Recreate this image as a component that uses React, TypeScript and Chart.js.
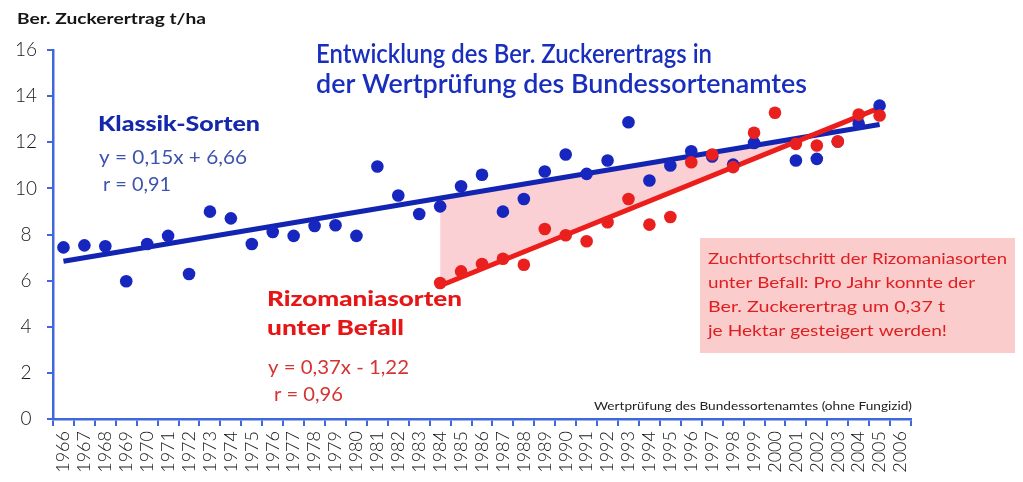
import React, { useEffect, useRef } from "react";
import { Chart, registerables } from "chart.js";

Chart.register(...registerables);

// ---------- data ----------
const yearLabels = [
  "1966", "1967", "1968", "1969", "1970", "1971", "1972", "1973", "1974", "1975",
  "1976", "1977", "1978", "1979", "1980", "1981", "1982", "1983", "1984", "1985",
  "1986", "1987", "1988", "1989", "1990", "1991", "1992", "1993", "1994", "1995",
  "1996", "1997", "1998", "1999", "2000", "2001", "2002", "2003", "2004", "2005",
  "2006",
];

// Klassik-Sorten (1966 … 2005)
const klassikValues: (number | null)[] = [
  7.44, 7.53, 7.49, 5.97, 7.59, 7.94, 6.29, 8.99, 8.7, 7.59,
  8.11, 7.94, 8.37, 8.4, 7.94, 10.95, 9.69, 8.89, 9.22, 10.09,
  10.59, 8.99, 9.54, 10.73, 11.47, 10.63, 11.21, 12.87, 10.34, 10.99,
  11.61, 11.38, 11.03, 11.97, null, 11.21, 11.28, 12.03, 12.8, 13.59,
];

// Rizomaniasorten unter Befall (1966 … 2005)
const rizoValues: (number | null)[] = [
  null, null, null, null, null, null, null, null, null, null,
  null, null, null, null, null, null, null, null, 5.9, 6.4,
  6.72, 6.95, 6.69, 8.24, 7.97, 7.71, 8.53, 9.54, 8.43, 8.76,
  11.13, 11.47, 10.92, 12.41, 13.28, 11.93, 11.86, 12.03, 13.2, 13.16,
];

// trend lines (end points)
const klassikTrendYears = [1966, 2005];
const klassikTrendValues = [6.84, 12.77];
const rizoTrendYears = [1984, 2005];
const rizoTrendValues = [5.78, 13.49];

const yTicks = [0, 2, 4, 6, 8, 10, 12, 14, 16];

// ---------- texts ----------
const yAxisTitle = "Ber. Zuckerertrag t/ha";
const titleLines = ["Entwicklung des Ber. Zuckerertrags in", "der Wertprüfung des Bundessortenamtes"];
const klassikLabel = "Klassik-Sorten";
const klassikEq = ["y = 0,15x + 6,66", "r = 0,91"];
const rizoLabel = ["Rizomaniasorten", "unter Befall"];
const rizoEq = ["y = 0,37x - 1,22", "r = 0,96"];
const boxLines = [
  "Zuchtfortschritt der Rizomaniasorten",
  "unter Befall: Pro Jahr konnte der",
  "Ber. Zuckerertrag um 0,37 t",
  "je Hektar gesteigert werden!",
];
const sourceNote = "Wertprüfung des Bundessortenamtes (ohne Fungizid)";

// ---------- styles ----------
const BLUE_PT = "rgb(22,38,190)";
const BLUE_LINE = "rgb(18,36,178)";
const RED_PT = "rgb(234,32,30)";
const RED_LINE = "rgb(236,30,28)";
const AXIS = "rgb(64,104,220)";
const PINK_FILL = "rgb(251,208,212)";
const PINK_BOX = "rgb(251,204,204)";
const FONT = "Lato, 'Open Sans', 'DejaVu Sans', sans-serif";

function toPoints(values: (number | null)[]) {
  const pts: { x: number; y: number }[] = [];
  values.forEach((v, i) => {
    if (v !== null) pts.push({ x: Number(yearLabels[i]), y: v });
  });
  return pts;
}
function pairPoints(xs: number[], ys: number[]) {
  return xs.map((x, i) => ({ x, y: ys[i] }));
}

function drawFitted(
  ctx: CanvasRenderingContext2D,
  text: string,
  x: number,
  y: number,
  font: string,
  color: string,
  width: number
) {
  ctx.save();
  ctx.font = font;
  ctx.fillStyle = color;
  ctx.textAlign = "left";
  ctx.textBaseline = "alphabetic";
  const w = ctx.measureText(text).width;
  ctx.translate(x, y);
  ctx.scale(width / w, 1);
  ctx.fillText(text, 0, 0);
  ctx.restore();
}

const textPlugin = {
  id: "textPlugin",
  afterDraw(chart: any) {
    const ctx: CanvasRenderingContext2D = chart.ctx;
    // annotation box
    ctx.save();
    ctx.fillStyle = PINK_BOX;
    ctx.fillRect(700, 238, 315, 115);
    ctx.restore();
    const boxWidths = [299, 267, 237, 239];
    const boxBase = [263.5, 288, 312, 335.5];
    boxLines.forEach((t, i) =>
      drawFitted(ctx, t, 708, boxBase[i], `400 16px ${FONT}`, "rgb(222,30,32)", boxWidths[i])
    );

    drawFitted(ctx, yAxisTitle, 17, 23.5, `700 16px ${FONT}`, "#151515", 189);

    drawFitted(ctx, titleLines[0], 316, 63, `600 27px ${FONT}`, "rgb(26,46,190)", 396);
    drawFitted(ctx, titleLines[1], 316, 92.5, `600 27px ${FONT}`, "rgb(26,46,190)", 491);

    drawFitted(ctx, klassikLabel, 98, 130.5, `900 20px ${FONT}`, "rgb(20,40,172)", 162);
    drawFitted(ctx, klassikEq[0], 99, 164, `400 20px ${FONT}`, "rgb(62,84,172)", 148);
    drawFitted(ctx, klassikEq[1], 103, 190.5, `400 20px ${FONT}`, "rgb(62,84,172)", 68);

    drawFitted(ctx, rizoLabel[0], 267, 306, `900 20px ${FONT}`, "rgb(230,22,22)", 195);
    drawFitted(ctx, rizoLabel[1], 267, 335, `900 20px ${FONT}`, "rgb(230,22,22)", 137);
    drawFitted(ctx, rizoEq[0], 268, 374, `400 20px ${FONT}`, "rgb(212,52,50)", 141);
    drawFitted(ctx, rizoEq[1], 274, 400.5, `400 20px ${FONT}`, "rgb(212,52,50)", 69);

    drawFitted(ctx, sourceNote, 594, 410, `400 12px ${FONT}`, "#222", 318);
  },
};

export default function App() {
  const canvasRef = useRef<HTMLCanvasElement | null>(null);

  useEffect(() => {
    const canvas = canvasRef.current;
    if (!canvas) return;
    const chart = new Chart(canvas, {
      type: "line",
      data: {
        datasets: [
          {
            label: "Rizomaniasorten",
            data: toPoints(rizoValues),
            showLine: false,
            pointRadius: 6.3,
            pointHoverRadius: 6.3,
            pointBackgroundColor: RED_PT,
            pointBorderWidth: 0,
            borderColor: RED_PT,
            order: 0,
          },
          {
            label: "Klassik-Sorten",
            data: toPoints(klassikValues),
            showLine: false,
            pointRadius: 6.3,
            pointHoverRadius: 6.3,
            pointBackgroundColor: BLUE_PT,
            pointBorderWidth: 0,
            borderColor: BLUE_PT,
            order: 1,
          },
          {
            label: "Trend Rizomania",
            data: pairPoints(rizoTrendYears, rizoTrendValues),
            borderColor: RED_LINE,
            borderWidth: 5,
            pointRadius: 0,
            borderCapStyle: "butt",
            fill: { target: 3, above: "rgba(0,0,0,0)", below: PINK_FILL },
            order: 2,
          },
          {
            label: "Trend Klassik",
            data: pairPoints(klassikTrendYears, klassikTrendValues),
            borderColor: BLUE_LINE,
            borderWidth: 5,
            pointRadius: 0,
            fill: false,
            order: 3,
          },
        ],
      },
      options: {
        animation: false,
        responsive: false,
        maintainAspectRatio: false,
        layout: { padding: { top: 50, right: 112, left: 0, bottom: 0 } },
        plugins: {
          legend: { display: false },
          tooltip: { enabled: false },
          title: { display: false },
          filler: { drawTime: "beforeDatasetsDraw" },
        },
        scales: {
          x: {
            type: "linear",
            min: 1965.5,
            max: 2006.5,
            afterFit: (s: any) => {
              s.height = 63;
            },
            afterBuildTicks: (s: any) => {
              s.ticks = yearLabels.map((y) => ({ value: Number(y) }));
            },
            border: { display: true, color: AXIS, width: 2.5 },
            grid: {
              offset: true,
              drawOnChartArea: false,
              drawTicks: true,
              tickLength: 7,
              color: AXIS,
              lineWidth: 2,
            },
            ticks: {
              autoSkip: false,
              maxRotation: 90,
              minRotation: 90,
              padding: 5,
              color: "#161616",
              font: { family: FONT, size: 18, weight: "300" },
              callback: (v: any) => {
                const idx = yearLabels.indexOf(String(Math.round(Number(v))));
                return idx >= 0 ? yearLabels[idx] : "";
              },
            },
          },
          y: {
            type: "linear",
            min: 0,
            max: 16,
            afterFit: (s: any) => {
              s.width = 53;
            },
            afterBuildTicks: (s: any) => {
              s.ticks = yTicks.map((v) => ({ value: v }));
            },
            border: { display: true, color: AXIS, width: 2.5 },
            grid: {
              drawOnChartArea: false,
              drawTicks: true,
              tickLength: 6,
              color: AXIS,
              lineWidth: 2,
            },
            ticks: {
              crossAlign: "center",
              padding: 10,
              color: "#161616",
              font: { family: FONT, size: 19, weight: "300" },
              callback: (v: any) => String(v),
            },
          },
        },
      },
      plugins: [textPlugin],
    } as any);
    return () => chart.destroy();
  }, []);

  return (
    <div style={{ position: "absolute", left: 0, top: 0, width: 1023, height: 482, background: "#fff" }}>
      <canvas ref={canvasRef} width={1023} height={482} style={{ display: "block" }} />
    </div>
  );
}
